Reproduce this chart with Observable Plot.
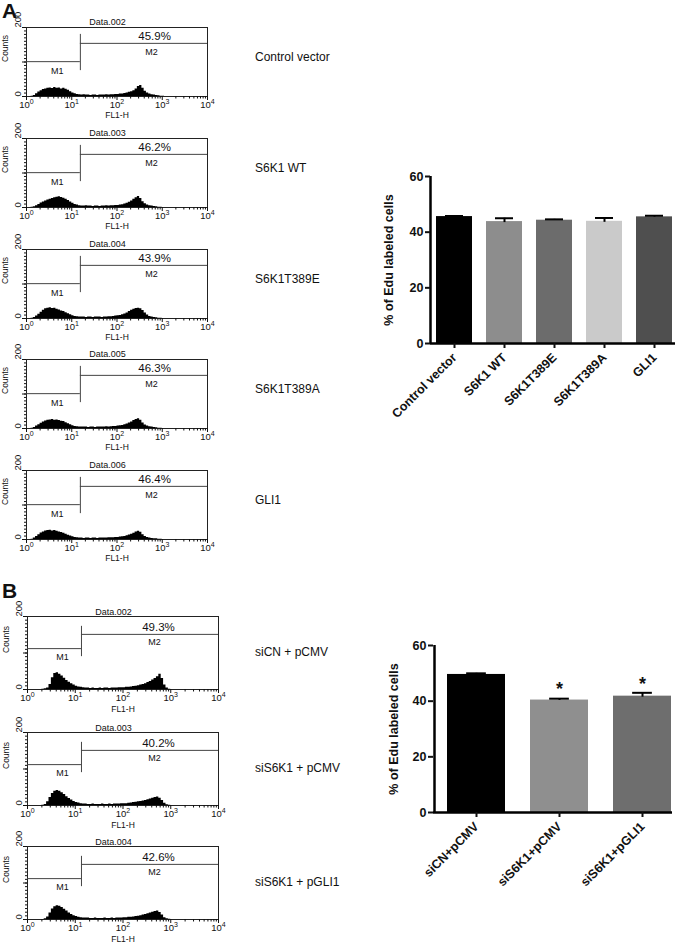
<!DOCTYPE html>
<html>
<head>
<meta charset="utf-8">
<script src="https://cdn.jsdelivr.net/npm/d3@7"></script>
<script src="https://cdn.jsdelivr.net/npm/@observablehq/plot@0.6"></script>
<style>
  html, body { margin: 0; padding: 0; background: #fff; }
  #page { position: relative; width: 685px; height: 945px; overflow: hidden; font-family: "Liberation Sans", Arial, Helvetica, sans-serif; color: #111; }
  .abs { position: absolute; }
  .panel-letter { font-weight: bold; font-size: 21px; line-height: 21px; }
  .cond { font-size: 12px; line-height: 16px; white-space: nowrap; }
  svg { background: transparent !important; }
</style>
</head>
<body>
<div id="page"></div>
<script>
// ---------------- DATA ----------------
// Flow cytometry histograms: counts in consecutive log10 bins of width 0.05 starting at 10^0
const histTitlesA = ["Data.002", "Data.003", "Data.004", "Data.005", "Data.006"];
const histPctA = ["45.9%", "46.2%", "43.9%", "46.3%", "46.4%"];
const histLabelsA = ["Control vector", "S6K1 WT", "S6K1T389E", "S6K1T389A", "GLI1"];
const countsA1 = [0,0,1,3,8,13,17,20,22,24, 25,23,26,24,25,22,24,21,18,14, 10,8,6,5,4,5,4,4,3,4, 4,3,4,4,4,5,4,5,5,6, 6,7,7,9,10,12,14,17,22,29, 32,24,15,10,7,5,4,3,2,1, 1,0,0,0];
const countsA2 = [0,0,1,2,5,9,13,16,19,22, 24,26,28,30,31,29,27,24,20,16, 12,9,7,5,4,4,5,4,4,3, 4,4,3,4,4,5,4,5,5,6, 6,7,8,10,12,15,19,24,28,32, 26,17,11,7,5,4,3,2,1,1, 0,0,0,0];
const countsA3 = [0,0,1,3,7,12,18,24,28,30, 31,29,30,27,25,22,20,17,14,11, 8,6,5,4,4,4,3,4,4,3, 4,4,4,3,4,4,5,5,6,7, 8,9,11,13,16,20,24,27,29,30, 28,23,16,10,6,4,3,2,1,1, 0,0,0,0];
const countsA4 = [0,0,1,3,7,11,15,19,22,24, 25,26,24,25,23,21,20,17,14,11, 8,6,5,4,4,4,4,3,4,4, 3,4,4,4,4,5,4,5,6,6, 7,8,9,11,13,16,19,23,26,28, 24,16,10,7,5,4,3,2,1,1, 0,0,0,0];
const countsA5 = [0,0,1,4,9,14,19,22,25,26, 27,25,26,24,22,20,18,15,12,10, 8,6,5,4,4,3,4,4,3,4, 4,3,4,4,4,4,5,5,5,6, 6,7,8,9,11,13,15,18,22,24, 21,14,9,6,4,3,2,2,1,1, 0,0,0,0];

const histTitlesB = ["Data.002", "Data.003", "Data.004"];
const histPctB = ["49.3%", "40.2%", "42.6%"];
const histLabelsB = ["siCN + pCMV", "siS6K1 + pCMV", "siS6K1 + pGLI1"];
const countsB1 = [0,0,0,0,0,0,1,2,4,14, 32,44,46,42,37,31,25,20,16,12, 9,7,6,5,4,4,3,4,3,3, 4,3,4,4,3,4,4,4,5,5, 5,6,6,7,8,9,10,12,14,16, 19,22,26,30,35,42,30,12,4,1, 0,0,0,0];
const countsB2 = [0,0,0,0,0,0,1,3,10,22, 33,39,41,39,35,30,24,19,15,11, 8,7,5,4,4,3,3,4,3,3, 3,4,3,3,4,3,4,4,4,5, 5,5,6,7,8,9,10,11,12,14, 16,18,20,22,23,20,14,6,2,1, 0,0,0,0];
const countsB3 = [0,0,0,0,0,0,0,2,7,18, 29,35,38,36,33,28,23,18,14,10, 8,6,5,4,4,4,3,3,4,3, 3,3,4,3,3,4,3,4,4,4, 5,5,6,6,7,8,9,10,12,14, 16,18,20,22,23,19,12,5,2,1, 0,0,0,0];

// Marker gates (FL1-H split value, M1 / M2 levels in counts)
const gateA = {split: 15.5, lo: 75, hi: 180, m1: 101, m2: 154};
const gateB = {split: 13.5, lo: 90, hi: 173, m1: 112, m2: 151};

const xMajor = [1, 10, 100, 1000, 10000];

// Bar chart A
const catsA = ["Control vector", "S6K1 WT", "S6K1T389E", "S6K1T389A", "GLI1"];
const meanA = [45.6, 43.8, 44.3, 43.9, 45.5];
const semA = [0.2, 1.2, 0.3, 1.2, 0.4];
const colorsA = ["#000000", "#8d8d8d", "#6c6c6c", "#cacaca", "#4f4f4f"];

// Bar chart B
const catsB = ["siCN+pCMV", "siS6K1+pCMV", "siS6K1+pGLI1"];
const meanB = [49.6, 40.4, 41.8];
const semB = [0.4, 0.5, 1.2];
const starB = [false, true, true];
const colorsB = ["#000000", "#8f8f8f", "#6e6e6e"];

const yTicksBar = [0, 20, 40, 60];
const yLabelBar = "% of Edu labeled cells";

// ---------------- LAYOUT ----------------
const page = document.getElementById("page");
const SVGNS = "http://www.w3.org/2000/svg";
function place(node, left, top) {
  const d = document.createElement("div");
  d.className = "abs";
  d.style.left = left + "px";
  d.style.top = top + "px";
  d.appendChild(node);
  page.appendChild(d);
  return d;
}
function label(text, cls, left, top) {
  const d = document.createElement("div");
  d.className = "abs " + cls;
  d.style.left = left + "px";
  d.style.top = top + "px";
  d.textContent = text;
  page.appendChild(d);
}
// turn "10^k" tick texts into 10 with a raised superscript
function superscripts(svg) {
  svg.querySelectorAll("text").forEach(t => {
    const m = /^10\^(\d)$/.exec(t.textContent);
    if (!m) return;
    t.textContent = "10";
    const s = document.createElementNS(SVGNS, "tspan");
    s.setAttribute("dy", "-4");
    s.setAttribute("font-size", "7");
    s.textContent = m[1];
    t.appendChild(s);
  });
  return svg;
}

const minorTicks = [];
for (let e = 0; e < 4; e++) for (let m = 2; m <= 9; m++) minorTicks.push(m * 10 ** e);

function histogram(o) {
  const pts = o.counts.map((c, i) => ({x: 10 ** (i * 0.05), y: c}));
  pts.push({x: 10 ** (o.counts.length * 0.05), y: 0});
  const g = o.gate;
  const svg = Plot.plot({
    width: o.w, height: o.h,
    marginLeft: o.mL, marginRight: o.mR, marginTop: o.mT, marginBottom: o.mB,
    style: {fontFamily: "'Liberation Sans', Arial, Helvetica, sans-serif", fontSize: "9px", background: "transparent", color: "#111", overflow: "visible"},
    x: {type: "log", domain: [1, 10000], label: null},
    y: {domain: [0, 200], label: null},
    marks: [
      Plot.areaY(pts, {x: "x", y: "y", curve: "step-after", fill: "#000"}),
      Plot.frame({stroke: "#222", strokeWidth: 1}),
      Plot.axisX({ticks: minorTicks, tickSize: 2.5, tickFormat: () => "", label: null}),
      Plot.axisX({ticks: xMajor, tickSize: 4, tickPadding: 1, label: null, fontSize: 9.5,
        tickFormat: d => "10^" + Math.round(Math.log10(d))}),
      Plot.axisY({ticks: d3.range(0, 201, 10), tickSize: 2, tickFormat: () => "", label: null}),
      Plot.axisY({ticks: [0, 100, 200], tickSize: 4, tickFormat: () => "", label: null}),
      Plot.text([0, 200], {y: d => d, frameAnchor: "left", dx: -9, rotate: -90, text: d => String(d), fontSize: 9.5}),
      Plot.text([{t: "Counts", y: 100}], {y: "y", text: "t", frameAnchor: "left", dx: -21, rotate: -90, fontSize: 8.5}),
      Plot.text([{t: "FL1-H", x: 100}], {x: "x", text: "t", frameAnchor: "bottom", dy: o.fl, fontSize: 8.5}),
      Plot.text([{t: o.title, x: o.titleX}], {x: "x", text: "t", frameAnchor: "top", dy: -o.titleDy, fontSize: 9}),
      Plot.ruleY([g.m1], {x1: 1, x2: g.split, stroke: "#444"}),
      Plot.ruleY([g.m2], {x1: g.split, x2: 10000, stroke: "#444"}),
      Plot.ruleX([g.split], {y1: g.lo, y2: g.hi, stroke: "#444"}),
      Plot.text([{t: "M1", x: o.m1x, y: o.m1y}], {x: "x", y: "y", text: "t", fontSize: 9, letterSpacing: "1px"}),
      Plot.text([{t: "M2", x: o.m2x, y: o.m2y}], {x: "x", y: "y", text: "t", fontSize: 9, letterSpacing: "1px"}),
      Plot.text([{t: o.pct, x: o.px, y: o.py}], {x: "x", y: "y", text: "t", fontSize: 11.5})
    ]
  });
  return superscripts(svg);
}

// Panel A histograms
const countsA = [countsA1, countsA2, countsA3, countsA4, countsA5];
countsA.forEach((c, i) => {
  const frameTop = 27 + 110.8 * i;
  const chart = histogram({
    counts: c, title: histTitlesA[i], pct: histPctA[i], gate: gateA,
    w: 240, h: 113, mL: 26, mR: 33, mT: 20, mB: 24, fl: 21, titleX: 62, titleDy: 9,
    m1x: 4.8, m1y: 75, m2x: 577, m2y: 128, px: 676, py: 174
  });
  place(chart, 0, frameTop - 20);
  label(histLabelsA[i], "cond", 255, frameTop + 22);
});

// Panel B histograms
const countsB = [countsB1, countsB2, countsB3];
const topsB = [616, 732, 846];
countsB.forEach((c, i) => {
  const frameTop = topsB[i];
  const chart = histogram({
    counts: c, title: histTitlesB[i], pct: histPctB[i], gate: gateB,
    w: 250, h: 117, mL: 27, mR: 32, mT: 18, mB: 26, fl: 22, titleX: 63, titleDy: 8,
    m1x: 5.4, m1y: 88, m2x: 457, m2y: 129, px: 553, py: 170
  });
  place(chart, 0, frameTop - 18);
  label(histLabelsB[i], "cond", 255, frameTop + 28);
});

label("A", "panel-letter", 2, 0);
label("B", "panel-letter", 2, 580);

// Bar charts
function barChart(o) {
  const data = o.cats.map((c, i) => ({cat: c, mean: o.mean[i], sem: o.sem[i], color: o.colors[i], star: o.star ? o.star[i] : false}));
  const font = "'Liberation Sans', Arial, Helvetica, sans-serif";
  const capInset = o.bw * o.capFrac;
  return Plot.plot({
    width: o.w, height: o.h,
    marginLeft: o.mL, marginRight: o.mR, marginTop: o.mT, marginBottom: o.mB,
    style: {fontFamily: font, fontSize: "11px", fontWeight: "bold", background: "transparent", color: "#111", overflow: "visible"},
    x: {type: "band", domain: o.cats, range: o.xRange, paddingInner: o.padIn, paddingOuter: 0, label: null},
    y: {domain: [0, 60], label: null},
    color: {type: "identity"},
    marks: [
      Plot.barY(data, {x: "cat", y: "mean", fill: "color"}),
      Plot.ruleX(data, {x: "cat", y1: d => d.mean - d.sem * 0.3, y2: d => d.mean + d.sem, stroke: "#000", strokeWidth: 2}),
      Plot.tickY(data, {x: "cat", y: d => d.mean + d.sem, stroke: "#000", strokeWidth: 2, insetLeft: capInset, insetRight: capInset}),
      Plot.text(data.filter(d => d.star), {x: "cat", y: d => d.mean + d.sem, text: () => "*", dy: -9, fontSize: 18, fontWeight: "bold"}),
      Plot.ruleY([0], {stroke: "#000", strokeWidth: 2.5}),
      Plot.ruleX([o.cats[0]], {x: d => d, y1: 0, y2: 60, dx: o.axisDx, stroke: "#000", strokeWidth: 2.5}),
      Plot.axisY({ticks: yTicksBar, tickSize: 5, tickPadding: 2, strokeWidth: 2, fontSize: 12.5, fontWeight: "bold",
        label: yLabelBar, labelAnchor: "center", labelArrow: "none", labelOffset: o.labelOffset}),
      Plot.axisX({tickSize: 5, tickPadding: 7, strokeWidth: 2, tickRotate: -45, fontSize: 12.5, fontWeight: "bold", label: null})
    ]
  });
}

place(barChart({
  cats: catsA, mean: meanA, sem: semA, colors: colorsA,
  w: 325, h: 270, mL: 70, mR: 10, mT: 16, mB: 87,
  xRange: [76, 312], padIn: 0.28, bw: 36, capFrac: 0.25, axisDx: -24, labelOffset: 46
}), 360, 160);

place(barChart({
  cats: catsB, mean: meanB, sem: semB, colors: colorsB, star: starB,
  w: 325, h: 312, mL: 73, mR: 13, mT: 25, mB: 120,
  xRange: [86, 311], padIn: 0.305, bw: 58, capFrac: 0.33, axisDx: -42, labelOffset: 44
}), 360, 620);
</script>
</body>
</html>
